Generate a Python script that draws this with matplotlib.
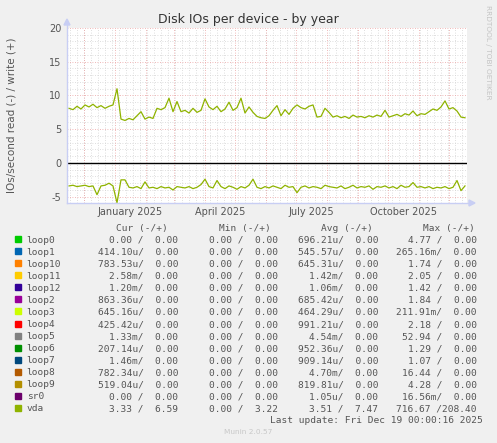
import numpy as np
import matplotlib
matplotlib.use("Agg")
import matplotlib.pyplot as plt
from matplotlib.patches import Rectangle

W, H = 497, 443

# ---------------- data ----------------
start_date = np.datetime64("2024-11-14")
end_date = np.datetime64("2025-12-19")
# sample days (days after start_date)
sample_days = np.arange(2, 400, 4)

vda_write = [8.1, 7.9, 8.4, 8.0, 8.6, 8.3, 8.7, 8.2, 8.5, 8.1,
             8.4, 8.6, 11.0, 6.5, 6.3, 6.6, 6.4, 7.0, 7.6, 6.5,
             6.8, 6.6, 8.1, 7.9, 8.2, 9.6, 7.6, 9.1, 7.6, 7.8,
             7.4, 8.1, 7.5, 7.8, 9.5, 8.3, 7.9, 8.4, 7.6, 8.0,
             9.0, 7.8, 8.2, 9.6, 7.4, 8.3, 7.5, 6.9, 6.7, 6.6,
             7.0, 7.8, 8.5, 7.0, 7.9, 7.2, 8.1, 8.6, 8.2, 8.0,
             8.4, 8.6, 6.8, 6.9, 8.1, 7.5, 6.8, 7.0, 6.7, 6.9,
             6.6, 7.1, 6.8, 6.9, 6.7, 7.0, 6.8, 7.1, 6.9, 7.8,
             6.8, 7.0, 7.2, 6.9, 7.3, 7.1, 7.7, 7.0, 7.3, 7.2,
             7.6, 8.0, 7.8, 8.3, 9.2, 8.0, 8.2, 7.7, 6.8, 6.7]

vda_read = [3.4, 3.3, 3.5, 3.4, 3.3, 3.5, 3.4, 4.7, 3.4, 3.3,
            3.0, 3.4, 5.9, 2.5, 2.5, 3.6, 3.7, 3.5, 3.8, 2.8,
            3.7, 3.6, 3.8, 3.5, 3.7, 3.6, 4.0, 3.5, 3.6, 3.7,
            3.5, 3.8, 3.6, 3.2, 2.4, 3.5, 3.7, 2.6, 3.5, 3.8,
            3.4, 3.6, 3.9, 3.5, 3.7, 3.3, 2.4, 3.6, 3.8, 3.5,
            3.7, 3.4, 3.6, 3.8, 3.3, 3.6, 3.5, 4.4, 3.6, 3.4,
            3.7, 3.5, 3.6, 3.8, 3.3, 3.5, 3.6, 3.7, 3.4, 3.8,
            3.6, 3.3, 3.7, 3.5, 3.6, 3.4, 3.9, 3.5, 3.6, 3.4,
            3.7, 3.5, 3.8, 3.3, 3.6, 3.5, 2.9, 3.6, 3.5, 3.7,
            3.5, 3.8, 3.6, 3.7, 3.5, 3.8, 3.6, 2.6, 4.1, 3.4]

devices = ["loop0", "loop1", "loop10", "loop11", "loop12", "loop2", "loop3",
           "loop4", "loop5", "loop6", "loop7", "loop8", "loop9", "sr0", "vda"]
colors = ["#00CC00", "#0066B3", "#FF8000", "#FFCC00", "#330099", "#990099",
          "#CCFF00", "#FF0000", "#808080", "#008F00", "#00487D", "#B35A00",
          "#B38F00", "#6B006B", "#8FB300"]
cur = ["0.00 /  0.00", "414.10u/  0.00", "783.53u/  0.00", "2.58m/  0.00",
       "1.20m/  0.00", "863.36u/  0.00", "645.16u/  0.00", "425.42u/  0.00",
       "1.33m/  0.00", "207.14u/  0.00", "1.46m/  0.00", "782.34u/  0.00",
       "519.04u/  0.00", "0.00 /  0.00", "3.33 /  6.59"]
mins = ["0.00 /  0.00"] * 14 + ["0.00 /  3.22"]
avgs = ["696.21u/  0.00", "545.57u/  0.00", "645.31u/  0.00", "1.42m/  0.00",
        "1.06m/  0.00", "685.42u/  0.00", "464.29u/  0.00", "991.21u/  0.00",
        "4.54m/  0.00", "952.36u/  0.00", "909.14u/  0.00", "4.70m/  0.00",
        "819.81u/  0.00", "1.05u/  0.00", "3.51 /  7.47"]
maxs = ["4.77 /  0.00", "265.16m/  0.00", "1.74 /  0.00", "2.05 /  0.00",
        "1.42 /  0.00", "1.84 /  0.00", "211.91m/  0.00", "2.18 /  0.00",
        "52.94 /  0.00", "1.29 /  0.00", "1.07 /  0.00", "16.44 /  0.00",
        "4.28 /  0.00", "16.56m/  0.00", "716.67 /208.40"]

y_ticks = [-5, 0, 5, 10, 15, 20]
x_labels = ["January 2025", "April 2025", "July 2025", "October 2025"]
x_label_dates = ["2025-01-16", "2025-04-16", "2025-07-16", "2025-10-16"]

# ---------------- figure ----------------
BG = "#F0F0F0"
TXT = "#555555"
fig = plt.figure(figsize=(W / 100, H / 100), dpi=100, facecolor=BG)

def fx(x):
    return x / W

def fy(y):
    return 1 - y / H

L, R, T, B = 67, 467, 28, 203
ax = fig.add_axes([fx(L), fy(B), (R - L) / W, (B - T) / H])
ax.set_facecolor("white")
total_days = int((end_date - start_date) / np.timedelta64(1, "D"))
ax.set_xlim(0, total_days)
ax.set_ylim(-5.93, 20)
for s in ax.spines.values():
    s.set_visible(False)
ax.tick_params(length=0, labelsize=7, colors=TXT)

# grid: minor y every 1
dot = (0, (1, 2))
for v in range(-5, 21):
    if v % 5 == 0:
        if v != 0:
            ax.axhline(v, color="#EBA0A0", lw=0.6, ls=dot, zorder=1)
    else:
        ax.axhline(v, color="#D4D4D4", lw=0.6, ls=dot, zorder=0.5)
# weekly minor vertical (Sundays) and monthly major
d0 = np.datetime64("2024-11-17")
while d0 < end_date:
    ax.axvline((d0 - start_date) / np.timedelta64(1, "D"), color="#D4D4D4",
               lw=0.6, ls=dot, zorder=0.5)
    d0 += np.timedelta64(7, "D")
m = np.datetime64("2024-12")
while m <= np.datetime64("2025-12"):
    dd = (m.astype("datetime64[D]") - start_date) / np.timedelta64(1, "D")
    ax.axvline(dd, color="#EBA0A0", lw=0.6, ls=dot, zorder=1)
    m += np.timedelta64(1, "M")

ax.set_yticks(y_ticks)
ax.set_yticklabels([str(v) for v in y_ticks])
ax.tick_params(axis="y", pad=4)
xt = [(np.datetime64(d) - start_date) / np.timedelta64(1, "D") for d in x_label_dates]
ax.set_xticks(xt)
ax.set_xticklabels(x_labels)
ax.tick_params(axis="x", pad=3)

ax.plot(sample_days, vda_write, color="#8FB300", lw=0.9, zorder=3)
ax.plot(sample_days, -np.array(vda_read), color="#8FB300", lw=0.9, zorder=3)
ax.axhline(0, color="black", lw=1.0, zorder=4)

# axis lines with arrows
AX_C = "#C8CEF4"
fig.add_artist(plt.Line2D([fx(L), fx(L)], [fy(B), fy(T - 4)], color=AX_C, lw=1))
fig.add_artist(plt.Line2D([fx(L), fx(R + 3)], [fy(B), fy(B)], color=AX_C, lw=1))
fig.add_artist(plt.Polygon([[fx(L - 3), fy(T - 3)], [fx(L + 3), fy(T - 3)], [fx(L), fy(T - 9)]],
                           closed=True, color=AX_C, transform=fig.transFigure))
fig.add_artist(plt.Polygon([[fx(R + 2), fy(B - 3)], [fx(R + 2), fy(B + 3)], [fx(R + 8), fy(B)]],
                           closed=True, color=AX_C, transform=fig.transFigure))

# texts
fig.text(fx(248), fy(19), "Disk IOs per device - by year", ha="center", va="center",
         fontsize=9, color="#333333")
fig.text(fx(12), fy(115), "IOs/second read (-) / write (+)", ha="center", va="center",
         rotation=90, fontsize=7.5, color=TXT)
fig.text(fx(488), fy(5), "RRDTOOL / TOBI OETIKER", ha="center", va="top",
         rotation=270, fontsize=5.3, color="#C4C4C4")

MONO = "DejaVu Sans Mono"
FS = 6.8
hy = 227.5
for x, t in [(116, "Cur (-/+)"), (219, "Min (-/+)"), (321, "Avg (-/+)"), (423, "Max (-/+)")]:
    fig.text(fx(x), fy(hy), t, ha="left", va="center_baseline", family=MONO, fontsize=FS, color=TXT)

for i, name in enumerate(devices):
    y = 239.3 + 12.03 * i
    fig.add_artist(Rectangle((fx(14.5), fy(y + 3)), 6 / W, 6 / H, color=colors[i],
                             transform=fig.transFigure))
    fig.text(fx(26.7), fy(y), name, ha="left", va="center_baseline", family=MONO,
             fontsize=FS, color=TXT)
    for xr, col in [(178, cur), (278, mins), (378, avgs), (477, maxs)]:
        fig.text(fx(xr), fy(y), col[i], ha="right", va="center_baseline", family=MONO,
                 fontsize=FS, color=TXT)

fig.text(fx(483), fy(419.5), "Last update: Fri Dec 19 00:00:16 2025", ha="right",
         va="center_baseline", family=MONO, fontsize=FS, color=TXT)
fig.text(fx(248), fy(432), "Munin 2.0.57", ha="center", va="center", fontsize=5.3,
         color="#C8C8C8")

fig.savefig("out.png", dpi=100, facecolor=BG)
